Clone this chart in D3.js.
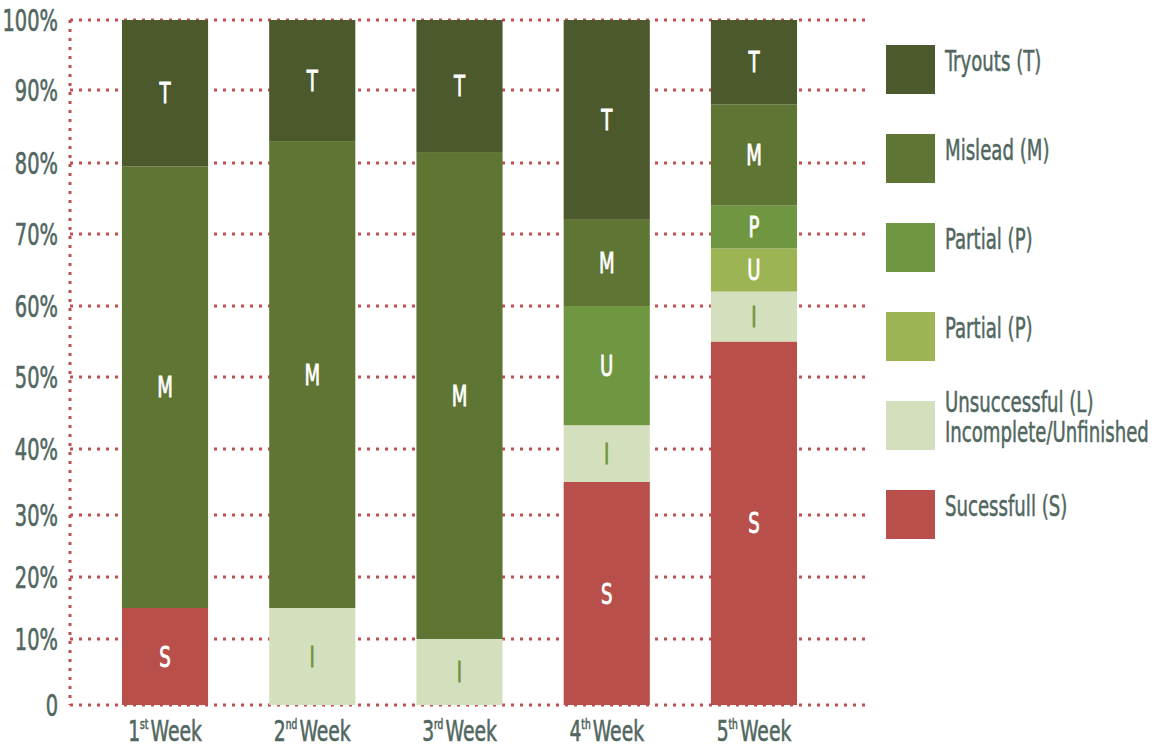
<!DOCTYPE html>
<html>
<head>
<meta charset="utf-8">
<script src="https://cdn.jsdelivr.net/npm/d3@7"></script>
<style>
  body { margin: 0; background: #fff; }
  svg text { font-family: "DejaVu Sans Condensed", "DejaVu Sans", sans-serif; }
</style>
</head>
<body>
<script>
// ---- data ----
var weeks = ["1", "2", "3", "4", "5"];
var weekSup = ["st", "nd", "rd", "th", "th"];

// stacked from the bottom up (percent of the week)
var successful = [15, 0, 0, 35, 55];
var incomplete = [0, 15, 10, 8.3, 7];
var partialLight = [0, 0, 0, 0, 6];
var partial = [0, 0, 0, 16.7, 6];
var mislead = [64.5, 68, 71.5, 12, 14];
var tryouts = [20.5, 17, 18.5, 28, 12];

// letters written inside each segment
var successfulLetters = ["S", "S", "S", "S", "S"];
var incompleteLetters = ["I", "I", "I", "I", "I"];
var partialLightLetters = ["U", "U", "U", "U", "U"];
var partialLetters = ["P", "P", "P", "U", "P"];
var misleadLetters = ["M", "M", "M", "M", "M"];
var tryoutsLetters = ["T", "T", "T", "T", "T"];

var yTicks = [0, 10, 20, 30, 40, 50, 60, 70, 80, 90, 100];
var yTickLabels = ["0", "10%", "20%", "30%", "40%", "50%", "60%", "70%", "80%", "90%", "100%"];

var legendLabels = [
  ["Tryouts (T)"],
  ["Mislead (M)"],
  ["Partial (P)"],
  ["Partial (P)"],
  ["Unsuccessful (L)", "Incomplete/Unfinished"],
  ["Sucessfull (S)"]
];

// ---- series setup ----
var series = [
  {values: successful, letters: successfulLetters, color: "#b94f4b", text: "#fff"},
  {values: incomplete, letters: incompleteLetters, color: "#d4dfbd", text: "#6f9640"},
  {values: partialLight, letters: partialLightLetters, color: "#9db454", text: "#fff"},
  {values: partial, letters: partialLetters, color: "#6f9640", text: "#fff"},
  {values: mislead, letters: misleadLetters, color: "#5f7534", text: "#fff"},
  {values: tryouts, letters: tryoutsLetters, color: "#4c592c", text: "#fff"}
];
var legendColors = ["#4c592c", "#5f7534", "#6f9640", "#9db454", "#d4dfbd", "#b94f4b"];

var width = 1170, height = 747;
var gridRed = "#c0504d", labelColor = "#51675f";
var squeeze = 0.72; // the original font is a narrow one, squeeze ours to match

var svg = d3.select("body").append("svg")
    .attr("width", width)
    .attr("height", height);

function place(px, py) {
  return "translate(" + px + "," + py + ") scale(" + squeeze + ",1)";
}

// x: one band per week
var x = d3.scaleBand()
    .domain(weeks)
    .range([66, 853])
    .paddingInner(0.415)
    .paddingOuter(0.38);

// y: the gridlines in the original are not evenly spaced, so the scale is piecewise
var y = d3.scaleLinear()
    .domain(yTicks)
    .range([705, 639, 577, 515, 449, 377, 306, 234, 163, 90, 20]);

// gridlines (dotted)
svg.append("g")
  .selectAll("line")
  .data(yTicks)
  .enter().append("line")
    .attr("x1", 70)
    .attr("x2", 866)
    .attr("y1", function(d) { return y(d); })
    .attr("y2", function(d) { return y(d); })
    .attr("stroke", gridRed)
    .attr("stroke-width", 3)
    .attr("stroke-dasharray", "3,6");

svg.append("line")
    .attr("x1", 70).attr("x2", 70)
    .attr("y1", y(100)).attr("y2", y(0))
    .attr("stroke", gridRed)
    .attr("stroke-width", 3)
    .attr("stroke-dasharray", "3,6");

// y tick labels
svg.append("g")
  .selectAll("text")
  .data(yTicks)
  .enter().append("text")
    .attr("transform", function(d) { return place(58, y(d)); })
    .attr("dy", "0.36em")
    .attr("text-anchor", "end")
    .attr("fill", labelColor)
    .attr("stroke", labelColor)
    .attr("stroke-width", 0.6)
    .style("font-size", "30px")
    .text(function(d, i) { return yTickLabels[i]; });

// stacked segments
var segs = [];
weeks.forEach(function(w, i) {
  var base = 0;
  series.forEach(function(s) {
    var v = s.values[i];
    if (v > 0) {
      segs.push({week: w, y0: base, y1: base + v, color: s.color, text: s.text, letter: s.letters[i]});
    }
    base += v;
  });
});

var seg = svg.append("g")
  .selectAll("g")
  .data(segs)
  .enter().append("g");

seg.append("rect")
    .attr("x", function(d) { return x(d.week); })
    .attr("width", x.bandwidth())
    .attr("y", function(d) { return y(d.y1); })
    .attr("height", function(d) { return y(d.y0) - y(d.y1); })
    .attr("fill", function(d) { return d.color; });

seg.append("text")
    .attr("transform", function(d) {
      return place(x(d.week) + x.bandwidth() / 2, (y(d.y0) + y(d.y1)) / 2);
    })
    .attr("dy", "0.36em")
    .attr("text-anchor", "middle")
    .attr("fill", function(d) { return d.text; })
    .attr("stroke", function(d) { return d.text; })
    .attr("stroke-width", 0.8)
    .style("font-size", "28px")
    .text(function(d) { return d.letter; });

// x labels with superscripts
var xl = svg.append("g")
  .selectAll("text")
  .data(weeks)
  .enter().append("text")
    .attr("transform", function(d) { return place(x(d) + x.bandwidth() / 2, 741); })
    .attr("text-anchor", "middle")
    .attr("fill", labelColor)
    .attr("stroke", labelColor)
    .attr("stroke-width", 0.6)
    .style("font-size", "29px");
xl.append("tspan").text(function(d) { return d; });
xl.append("tspan")
    .attr("dy", -12)
    .style("font-size", "14px")
    .text(function(d, i) { return weekSup[i]; });
xl.append("tspan")
    .attr("dy", 12)
    .attr("dx", 3)
    .text("Week");

// legend
var leg = svg.append("g")
  .selectAll("g")
  .data(legendLabels)
  .enter().append("g")
    .attr("transform", function(d, i) { return "translate(886," + (45 + i * 89) + ")"; });

leg.append("rect")
    .attr("width", 49)
    .attr("height", 49)
    .attr("fill", function(d, i) { return legendColors[i]; });

leg.append("text")
    .attr("transform", function(d) { return place(59, 26 - (d.length - 1) * 15); })
    .attr("dy", "0.36em")
    .attr("fill", labelColor)
    .attr("stroke", labelColor)
    .attr("stroke-width", 0.5)
    .style("font-size", "28px")
  .selectAll("tspan")
  .data(function(d) { return d; })
  .enter().append("tspan")
    .attr("x", 0)
    .attr("dy", function(d, i) { return i ? 30 : 0; })
    .text(function(d) { return d; });
</script>
</body>
</html>
